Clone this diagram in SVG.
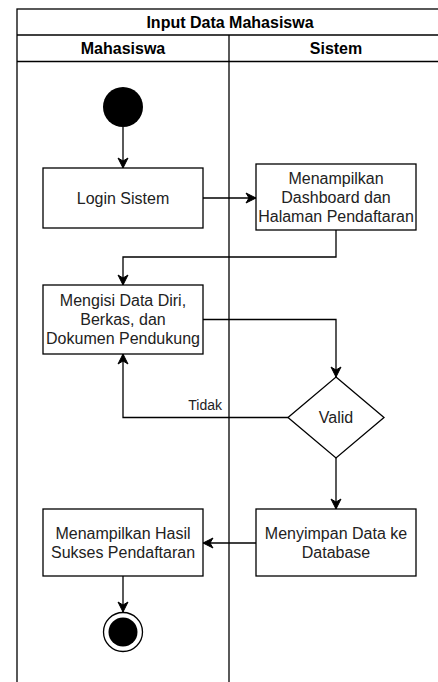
<svg xmlns="http://www.w3.org/2000/svg" width="438" height="682" viewBox="0 0 438 682">
<style>
.ln{fill:none;stroke:#000;stroke-width:1.3}
.box{fill:#fff;stroke:#000;stroke-width:1.3}
.t{font-family:"Liberation Sans",Arial,sans-serif;font-size:16px;fill:#222;text-anchor:middle}
.b{font-weight:bold;fill:#000}
.conn{fill:none;stroke:#000;stroke-width:1.3;marker-end:url(#arr)}
</style>
<defs>
<marker id="arr" viewBox="0 0 12 12" refX="11" refY="6" markerWidth="12" markerHeight="12" markerUnits="userSpaceOnUse" orient="auto">
<path d="M1,1 L11,6 L1,11 L4,6 Z" fill="#000" stroke="#000" stroke-width="1"/>
</marker>
</defs>
<rect width="438" height="682" fill="#fff"/>
<g id="pool">
<rect x="17" y="9" width="426" height="700" class="ln"/>
<line x1="17" y1="35" x2="443" y2="35" class="ln"/>
<line x1="17" y1="61.5" x2="443" y2="61.5" class="ln"/>
<line x1="229" y1="35" x2="229" y2="682" class="ln"/>
<text x="230" y="28" class="t b">Input Data Mahasiswa</text>
<text x="123" y="54" class="t b">Mahasiswa</text>
<text x="336" y="54" class="t b">Sistem</text>
</g>
<g id="connectors">
<path d="M123,127 V168" class="conn"/>
<path d="M203,198 H256" class="conn"/>
<path d="M336,230 V257 H123 V285" class="conn"/>
<path d="M203,319.5 H336 V377" class="conn"/>
<path d="M288,417.5 H123 V354" class="conn"/>
<path d="M336,458 V509" class="conn"/>
<path d="M256,543 H203" class="conn"/>
<path d="M123,576 V612" class="conn"/>
<text x="222" y="410" class="t" style="font-size:14px;text-anchor:end">Tidak</text>
</g>
<g id="start">
<circle cx="123" cy="107" r="20" fill="#000"/>
</g>
<g id="login">
<rect x="43" y="168" width="160" height="60" class="box"/>
<text x="123" y="203.7" class="t">Login Sistem</text>
</g>
<g id="dashboard">
<rect x="256" y="164" width="160" height="66" class="box"/>
<text class="t"><tspan x="336" y="183.5">Menampilkan</tspan><tspan x="336" y="202.7">Dashboard dan</tspan><tspan x="336" y="221.9">Halaman Pendaftaran</tspan></text>
</g>
<g id="mengisi">
<rect x="43" y="285" width="160" height="69" class="box"/>
<text class="t"><tspan x="123" y="306">Mengisi Data Diri,</tspan><tspan x="123" y="325.2">Berkas, dan</tspan><tspan x="123" y="344.4">Dokumen Pendukung</tspan></text>
</g>
<g id="valid">
<polygon points="336,377 384,417.5 336,458 288,417.5" class="box"/>
<text x="336" y="423.2" class="t">Valid</text>
</g>
<g id="menyimpan">
<rect x="256" y="509" width="160" height="67" class="box"/>
<text class="t"><tspan x="336" y="538.5">Menyimpan Data ke</tspan><tspan x="336" y="557.7">Database</tspan></text>
</g>
<g id="hasil">
<rect x="43" y="509" width="160" height="67" class="box"/>
<text class="t"><tspan x="123" y="538.5">Menampilkan Hasil</tspan><tspan x="123" y="557.7">Sukses Pendaftaran</tspan></text>
</g>
<g id="end">
<circle cx="123" cy="632" r="19.5" fill="#fff" stroke="#000" stroke-width="1.3"/>
<circle cx="123" cy="632" r="14.5" fill="#000"/>
</g>
</svg>
